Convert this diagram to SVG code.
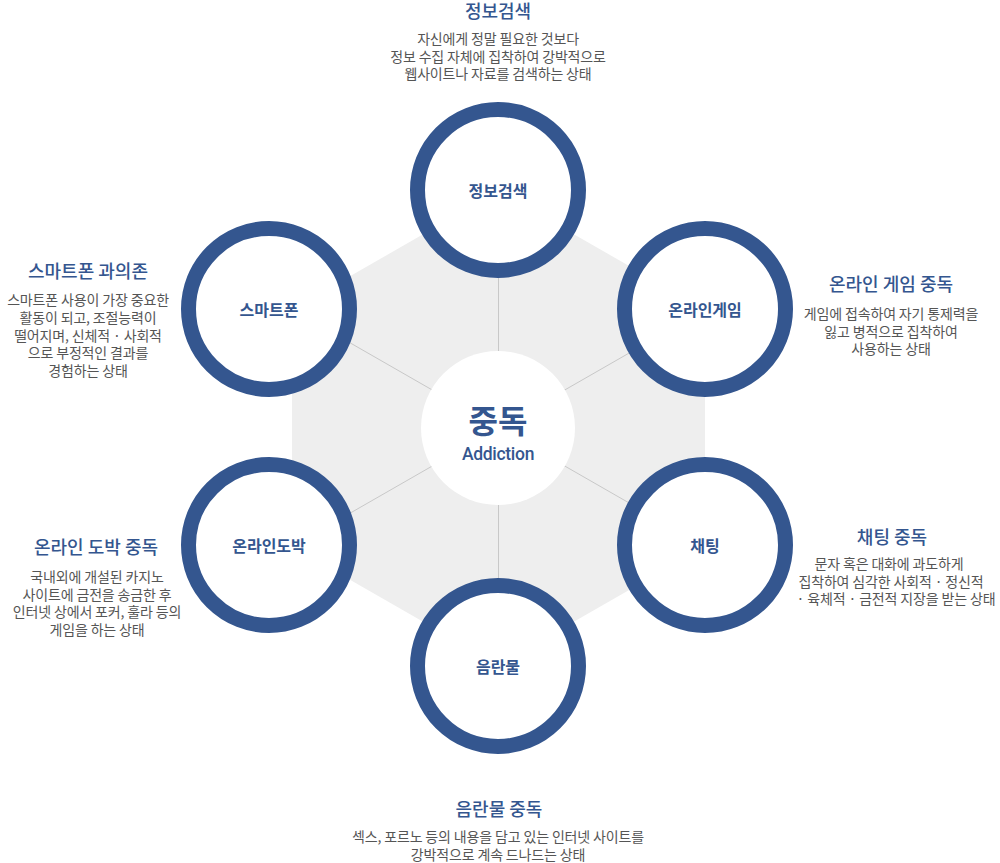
<svg xmlns="http://www.w3.org/2000/svg" width="1000" height="863" viewBox="0 0 1000 863">
<style>
.ring{fill:#fff;stroke:#34568f;stroke-width:15}
.lbl{font-family:"Noto Sans CJK KR","Noto Sans",sans-serif;font-size:16px;font-weight:bold;fill:#34568f;text-anchor:middle}
.ttl{font-family:"Noto Sans CJK KR","Noto Sans",sans-serif;font-size:18px;font-weight:500;fill:#34568f;text-anchor:middle}
.dsc{font-family:"Noto Sans CJK KR","Noto Sans",sans-serif;font-size:14px;fill:#555;text-anchor:middle;letter-spacing:-0.15px}
.spoke{stroke:#c8c8c8;stroke-width:1}
</style>
<rect width="1000" height="863" fill="#fff"/>
<polygon points="498.5,191 705,309.5 705,546.5 498.5,665 292,546.5 292,309.5" fill="#eeeeee"/>
<g id="connectors">
<line class="spoke" x1="498.5" y1="428" x2="498.5" y2="191"/>
<line class="spoke" x1="498.5" y1="428" x2="705" y2="309.5"/>
<line class="spoke" x1="498.5" y1="428" x2="705" y2="546.5"/>
<line class="spoke" x1="498.5" y1="428" x2="498.5" y2="665"/>
<line class="spoke" x1="498.5" y1="428" x2="292" y2="546.5"/>
<line class="spoke" x1="498.5" y1="428" x2="292" y2="309.5"/>
</g>
<g id="center">
<circle cx="498" cy="428" r="77" fill="#fff"/>
<text x="498" y="433" font-family="'Noto Sans CJK KR','Noto Sans',sans-serif" font-size="32" font-weight="bold" fill="#34568f" text-anchor="middle">중독</text>
<text x="498" y="460" font-family="Roboto,'Liberation Sans',sans-serif" font-size="17.5" font-weight="500" fill="#34568f" text-anchor="middle" letter-spacing="-0.3">Addiction</text>
</g>
<g id="node-search">
<circle class="ring" cx="498" cy="190" r="80.5"/>
<text class="lbl" x="498" y="197">정보검색</text>
</g>
<g id="node-game">
<circle class="ring" cx="705" cy="309" r="80.5"/>
<text class="lbl" x="705" y="316">온라인게임</text>
</g>
<g id="node-chat">
<circle class="ring" cx="705" cy="545" r="80.5"/>
<text class="lbl" x="705" y="552">채팅</text>
</g>
<g id="node-porn">
<circle class="ring" cx="498" cy="666" r="80.5"/>
<text class="lbl" x="498" y="673">음란물</text>
</g>
<g id="node-gamble">
<circle class="ring" cx="269" cy="545" r="80.5"/>
<text class="lbl" x="269" y="552">온라인도박</text>
</g>
<g id="node-phone">
<circle class="ring" cx="269" cy="309" r="80.5"/>
<text class="lbl" x="269" y="316">스마트폰</text>
</g>
<g id="desc-search">
<text class="ttl" x="498" y="18">정보검색</text>
<text class="dsc" x="498" y="44">자신에게 정말 필요한 것보다</text>
<text class="dsc" x="498" y="61.5">정보 수집 자체에 집착하여 강박적으로</text>
<text class="dsc" x="498" y="79">웹사이트나 자료를 검색하는 상태</text>
</g>
<g id="desc-phone">
<text class="ttl" x="88" y="278">스마트폰 과의존</text>
<text class="dsc" x="88" y="305">스마트폰 사용이 가장 중요한</text>
<text class="dsc" x="88" y="323">활동이 되고, 조절능력이</text>
<text class="dsc" x="88" y="340.5">떨어지며, 신체적 · 사회적</text>
<text class="dsc" x="88" y="358">으로 부정적인 결과를</text>
<text class="dsc" x="88" y="376">경험하는 상태</text>
</g>
<g id="desc-game">
<text class="ttl" x="891" y="291">온라인 게임 중독</text>
<text class="dsc" x="891" y="319">게임에 접속하여 자기 통제력을</text>
<text class="dsc" x="891" y="336.5">잃고 병적으로 집착하여</text>
<text class="dsc" x="891" y="354">사용하는 상태</text>
</g>
<g id="desc-gamble">
<text class="ttl" x="96" y="554">온라인 도박 중독</text>
<text class="dsc" x="97" y="582">국내외에 개설된 카지노</text>
<text class="dsc" x="97" y="599.5">사이트에 금전을 송금한 후</text>
<text class="dsc" x="97" y="617">인터넷 상에서 포커, 훌라 등의</text>
<text class="dsc" x="97" y="635">게임을 하는 상태</text>
</g>
<g id="desc-chat">
<text class="ttl" x="892" y="544">채팅 중독</text>
<text class="dsc" x="889" y="569">문자 혹은 대화에 과도하게</text>
<text class="dsc" x="891" y="586.5">집착하여 심각한 사회적 · 정신적</text>
<text class="dsc" x="896" y="604">· 육체적 · 금전적 지장을 받는 상태</text>
</g>
<g id="desc-porn">
<text class="ttl" x="499" y="816">음란물 중독</text>
<text class="dsc" x="498" y="842">섹스, 포르노 등의 내용을 담고 있는 인터넷 사이트를</text>
<text class="dsc" x="498" y="860">강박적으로 계속 드나드는 상태</text>
</g>
</svg>
